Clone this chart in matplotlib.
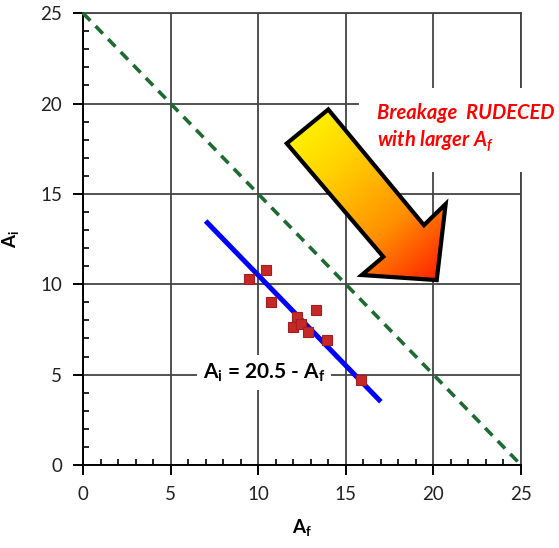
import numpy as np
import matplotlib
matplotlib.use('Agg')
import matplotlib.pyplot as plt
from matplotlib.patches import Polygon
from matplotlib.colors import LinearSegmentedColormap
from matplotlib.ticker import MultipleLocator

plt.rcParams['font.family'] = ['Lato', 'DejaVu Sans']
plt.rcParams['mathtext.fontset'] = 'custom'
plt.rcParams['mathtext.rm'] = 'Lato'
plt.rcParams['mathtext.bf'] = 'Lato:bold'
plt.rcParams['mathtext.it'] = 'Lato:bold:italic'

# measured points (A_f, A_i)
af = [9.47, 10.45, 10.73, 13.30, 12.20, 11.97, 12.44, 12.86, 13.91, 15.85]
ai = [10.29, 10.79, 9.03, 8.57, 8.20, 7.65, 7.80, 7.37, 6.91, 4.70]

# fitted line A_i = 20.5 - A_f
fit_x = [7, 17]
fit_y = [20.5 - v for v in fit_x]

# limit line A_i + A_f = 25
lim_x = [0, 25]
lim_y = [25, 0]

# block arrow outline (data coords)
arrow_x = [11.63, 14.00, 19.46, 20.70, 20.19, 15.91, 17.14]
arrow_y = [17.79, 19.67, 13.27, 14.44, 10.23, 10.51, 11.52]

grid_col = '#444444'

fig = plt.figure(figsize=(5.59, 5.48), dpi=100)
ax = fig.add_axes([0.1485, 0.1515, 0.7835, 0.8245])

ax.set_xlim(0, 25)
ax.set_ylim(0, 25)
ax.xaxis.set_major_locator(MultipleLocator(5))
ax.yaxis.set_major_locator(MultipleLocator(5))
ax.xaxis.set_minor_locator(MultipleLocator(1))
ax.yaxis.set_minor_locator(MultipleLocator(1))
ax.grid(True, which='major', color=grid_col, lw=1.3)
ax.set_axisbelow(True)

for s in ['left', 'bottom']:
    ax.spines[s].set_color('black')
    ax.spines[s].set_linewidth(1.4)
for s in ['top', 'right']:
    ax.spines[s].set_color(grid_col)
    ax.spines[s].set_linewidth(1.3)

ax.tick_params(which='major', direction='out', length=7, width=1.4,
               labelsize=13.5, pad=8, colors='black')
ax.tick_params(which='minor', direction='in', length=4, width=1.2)
ax.tick_params(axis='x', labelcolor='#222222')
ax.tick_params(axis='y', labelcolor='#222222')

ax.plot(lim_x, lim_y, color='#1E6B32', lw=2.6, ls=(0, (2.9, 2.1)),
        clip_on=False, zorder=3)
ax.plot(fit_x, fit_y, color='#0000FF', lw=3.6, zorder=4, solid_capstyle='butt')
ax.plot(af, ai, ls='none', marker='s', ms=6.5, mfc='#C62828',
        mec='#A31F1F', mew=0.8, zorder=5)

# gradient arrow (drawn above the text box)
poly = Polygon(list(zip(arrow_x, arrow_y)), closed=True, fc='none',
               ec='black', lw=3, joinstyle='miter', zorder=10)
ax.add_patch(poly)
x0, x1 = min(arrow_x), max(arrow_x)
y0, y1 = min(arrow_y), max(arrow_y)
gx, gy = np.meshgrid(np.linspace(x0, x1, 200), np.linspace(y0, y1, 200))
dx, dy = 20.19 - 12.8, 10.23 - 18.7
t = (gx - x0) * dx + (gy - y1) * dy
t = (t - t.min()) / (t.max() - t.min())
cmap = LinearSegmentedColormap.from_list('yr', ['#FFFF00', '#FFD000', '#FF9000', '#FF1A00'])
im = ax.imshow(t, extent=(x0, x1, y0, y1), origin='lower', cmap=cmap,
               aspect='auto', zorder=9)
im.set_clip_path(poly)
ax.set_xlim(0, 25)
ax.set_ylim(0, 25)

ax.text(10.33, 5.1, r'$\mathbf{A_i}$ = 20.5 - $\mathbf{A_f}$', fontsize=15,
        fontweight='bold', ha='center', va='center', zorder=8,
        bbox=dict(boxstyle='square,pad=0.3', fc='white', ec='none'))

ax.text(16.78, 17.6, 'Breakage  RUDECED\nwith larger $A_f$', fontsize=14.5,
        fontweight='bold', style='italic', color='#FF0000', ha='left',
        va='baseline', linespacing=1.3, zorder=8, clip_on=False,
        bbox=dict(boxstyle='square,pad=0.9', fc='white', ec='none'))

ax.set_xlabel(r'$\mathbf{A_f}$', fontsize=13.5, labelpad=10)
ax.set_ylabel(r'$\mathbf{A_i}$', fontsize=13.5, labelpad=14)

fig.savefig('out.png', dpi=100)
